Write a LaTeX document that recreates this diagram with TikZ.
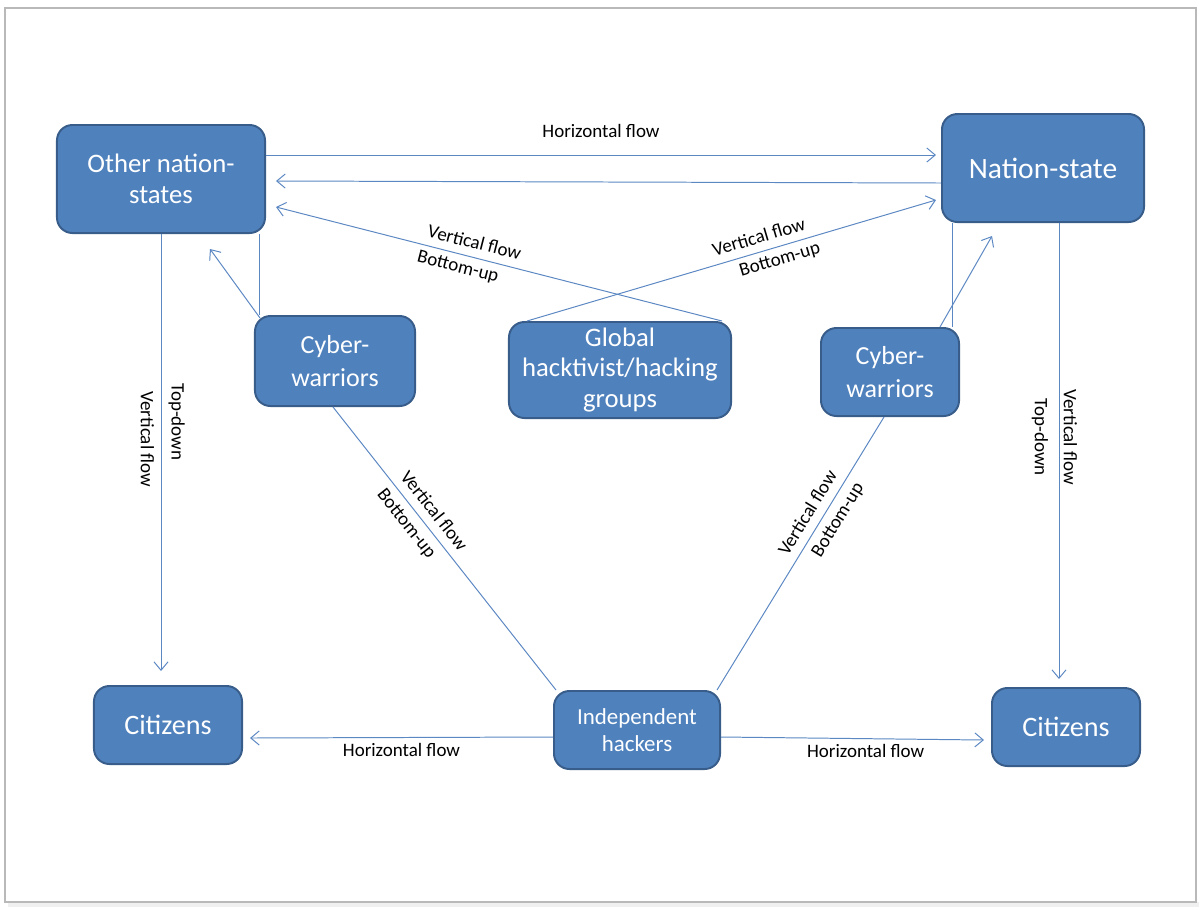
\documentclass[tikz,border=0pt]{standalone}
\usepackage{fontspec}
\setmainfont{Carlito}
\usepackage{tikz}
\usetikzlibrary{positioning, calc}
\usetikzlibrary{arrows.meta}
\definecolor{boxblue}{HTML}{4F81BD}
\definecolor{boxedge}{HTML}{385D8A}
\definecolor{flowblue}{HTML}{5B87C2}

\begin{document}
\begin{tikzpicture}[x=0.025cm,y=-0.025cm,>={Straight Barb[length=6pt,width=10pt]}]

	\tikzstyle{a-node}=[rectangle,rounded corners=11pt,draw=boxedge,line width=1.4pt,fill=boxblue,text=white,align=center,inner sep=2pt]
	\tikzstyle{flow}=[draw=flowblue,line width=0.7pt]
	\tikzstyle{annot}=[font=\fontsize{13.5}{15}\selectfont,inner sep=1pt]

	% page
	\useasboundingbox (0,0) rectangle (1202,910);
	\fill[gray!12] (8,902) rectangle (1199,907);
	\draw[gray!55,line width=0.8pt] (5,8) rectangle (1196,902);

	% states
	\node[a-node,minimum width=5.2cm,minimum height=2.7cm,font=\fontsize{19}{22}\selectfont] 	(other)	at (161,179)	{Other nation-\\states};
	\node[a-node,minimum width=5.05cm,minimum height=2.7cm,font=\fontsize{21}{24}\selectfont] 	(ns)	at (1043,168)	{Nation-state};

	% middle layer
	\node[a-node,minimum width=4cm,minimum height=2.25cm,font=\fontsize{18.5}{24}\selectfont] 	(cyberl)	at (335,361)	{Cyber-\\warriors};
	\node[a-node,minimum width=5.55cm,minimum height=2.4cm,font=\fontsize{19}{21.5}\selectfont] 	(global)	at (620,370)	{Global\\hacktivist/hacking\\groups};
	\node[a-node,minimum width=3.45cm,minimum height=2.2cm,font=\fontsize{18.5}{24}\selectfont] 	(cyberr)	at (890,372)	{Cyber-\\warriors};

	% bottom layer
	\node[a-node,minimum width=3.7cm,minimum height=1.95cm,font=\fontsize{20}{24}\selectfont] 	(citl)	at (168,725)	{Citizens};
	\node[a-node,minimum width=4.15cm,minimum height=1.95cm,font=\fontsize{16.3}{19.2}\selectfont] 	(ind)	at (637,730)	{Independent\\hackers};
	\node[a-node,minimum width=3.7cm,minimum height=1.95cm,font=\fontsize{20}{24}\selectfont] 	(citr)	at (1066,727)	{Citizens};

	% horizontal flow between states
	\draw[flow,->] ($(other.east)+(0,-24)$) -- node[annot,above=11pt] (hftop) {Horizontal flow} ($(ns.west)+(-5,-13)$);
	\draw[flow,->] ($(ns.west)+(0,15)$) -- ($(other.east)+(10,2)$);

	% bottom-up from the global groups
	\draw[flow,<-] ($(other.east)+(10,28)$) -- node[annot,sloped,pos=0.437,above=4.7pt] (vfgl) {Vertical flow} node[annot,sloped,pos=0.415,below=3pt] (bugl) {Bottom-up} ($(global.north)+(102,0)$);
	\draw[flow,->] ($(global.north)+(-93,0)$) -- node[annot,sloped,pos=0.577,above=4.7pt] (vfgr) {Vertical flow} node[annot,sloped,pos=0.609,below=3pt] (bugr) {Bottom-up} ($(ns.west)+(-5,32)$);

	% cyber-warriors to the states
	\draw[flow,->] ($(cyberl.north)+(-75,3)$) -- ($(other.south)+(49,15)$);
	\draw[flow] ($(other.south)+(98,0)$) -- ($(cyberl.north)+(-76,0)$);
	\draw[flow,->] ($(cyberr.north)+(50,0)$) -- ($(ns.south)+(-51,13)$);
	\draw[flow] ($(ns.south)+(-91,0)$) -- ($(cyberr.north)+(62,0)$);

	% top-down to citizens
	\draw[flow,->] (other.south) -- node[annot,sloped,pos=0.47,below=3.6pt] (vfl) {Vertical flow} node[annot,sloped,pos=0.43,above=4pt] (tdl) {Top-down} ($(citl.north)+(-7,-14)$);
	\draw[flow,->] ($(ns.south)+(16,0)$) -- node[annot,sloped,pos=0.47,above=2pt] (vfr) {Vertical flow} node[annot,sloped,pos=0.47,below=6.5pt] (tdr) {Top-down} ($(citr.north)+(-7,-8)$);

	% independent hackers
	\draw[flow] ($(cyberl.south)+(-2,0)$) -- node[annot,sloped,pos=0.40,above=5pt] (vfil) {Vertical flow} node[annot,sloped,pos=0.38,below=4pt] (buil) {Bottom-up} ($(ind.north)+(-81,0)$);
	\draw[flow] ($(ind.north)+(80,0)$) -- node[annot,sloped,pos=0.62,above=5pt] (vfir) {Vertical flow} node[annot,sloped,pos=0.65,below=4pt] (buir) {Bottom-up} ($(cyberr.south)+(-6,0)$);
	\draw[flow,->] ($(ind.west)+(0,7)$) -- node[annot,below=2.5pt] (hfl) {Horizontal flow} ($(citl.east)+(7,13)$);
	\draw[flow,->] ($(ind.east)+(0,7)$) -- node[annot,pos=0.55,below=2.5pt] (hfr) {Horizontal flow} ($(citr.west)+(-7,13)$);
\end{tikzpicture}
\end{document}
